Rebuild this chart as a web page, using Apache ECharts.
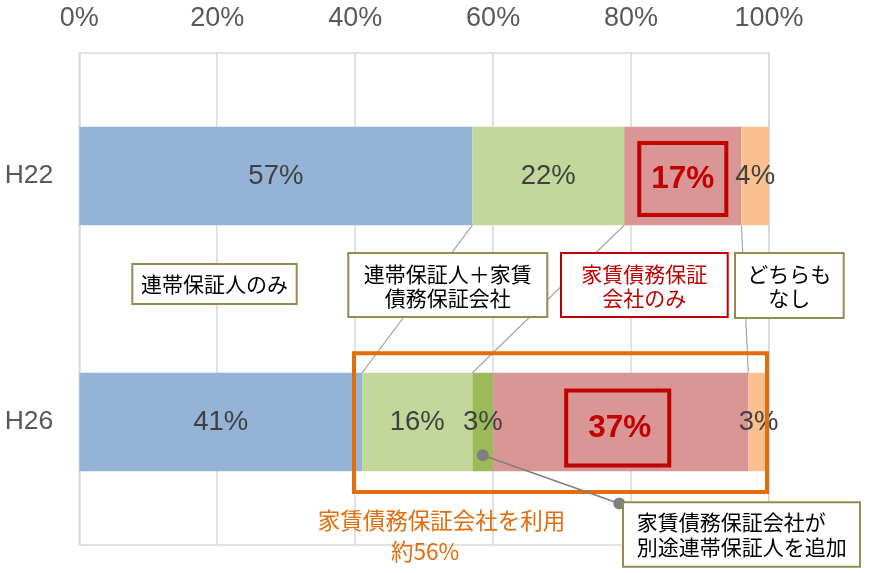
<!DOCTYPE html>
<html><head><meta charset="utf-8">
<script src="https://cdn.jsdelivr.net/npm/echarts@6/dist/echarts.min.js"></script>
<style>html,body{margin:0;padding:0;background:#fff}#c{width:870px;height:573px}</style>
</head><body><div id="c"></div>
<script>
// ---- data ----
const categories = ['H22', 'H26'];
const xTicks = [0, 20, 40, 60, 80, 100];
const onlyGuarantor = [57, 41];          // 連帯保証人のみ
const guarantorPlusCompany = [22, 16];   // 連帯保証人＋家賃債務保証会社
const companyAddedGuarantor = [0, 3];    // 家賃債務保証会社が別途連帯保証人を追加
const companyOnly = [17, 37];            // 家賃債務保証会社のみ
const neither = [4, 3];                  // どちらもなし
const seriesNames = ['連帯保証人のみ', '連帯保証人＋家賃債務保証会社', '家賃債務保証会社が別途連帯保証人を追加', '家賃債務保証会社のみ', 'どちらもなし'];

const LAT = '"Liberation Sans", Arial, "Noto Sans CJK JP", sans-serif';
const JP = '"Noto Sans CJK JP", "Noto Sans", sans-serif';

const chart = echarts.init(document.getElementById('c'), null, {renderer: 'canvas'});

const baseLabel = {
  show: true, position: 'inside', fontSize: 27.5, color: '#404040', fontFamily: LAT,
  formatter: p => (p.value > 0 ? p.value + '%' : '')
};
const boxLabels = [
  {padding: [20, 12, 20, 12], offset: [0, 3]},
  {padding: [21, 18, 22, 22], offset: [-3, 6]}
];
function mk(name, data, color, extra) {
  return {
    name, type: 'bar', stack: 'all', barWidth: '40%',
    itemStyle: {color}, label: baseLabel,
    data: data.map((v, i) => extra ? extra(v, i) : v)
  };
}

chart.setOption({
  animation: false,
  grid: {left: 79.3, right: 101, top: 53, bottom: 28, show: true, borderColor: '#D9D9D9', borderWidth: 1.5},
  xAxis: {
    type: 'value', position: 'top', min: xTicks[0], max: xTicks[xTicks.length - 1], interval: xTicks[1] - xTicks[0],
    axisLine: {show: false}, axisTick: {show: false},
    axisLabel: {formatter: '{value}%', fontSize: 27, color: '#595959', fontFamily: LAT, margin: 21},
    splitLine: {lineStyle: {color: '#D9D9D9', width: 1.5}}
  },
  yAxis: {
    type: 'category', data: categories, inverse: true,
    axisLine: {show: false}, axisTick: {show: false},
    axisLabel: {fontSize: 26.5, color: '#595959', fontFamily: LAT, margin: 26}
  },
  series: [
    mk(seriesNames[0], onlyGuarantor, '#95B3D7'),
    mk(seriesNames[1], guarantorPlusCompany, '#C4D79B'),
    mk(seriesNames[2], companyAddedGuarantor, '#9BBB59'),
    mk(seriesNames[3], companyOnly, '#DA9694', (v, i) => ({
      value: v,
      label: Object.assign({
        fontSize: 31.5, fontWeight: 'bold', color: '#C00000', lineHeight: 32,
        borderColor: '#C00000', borderWidth: 4
      }, boxLabels[i])
    })),
    mk(seriesNames[4], neither, '#FAC090')
  ]
});

// ---- annotations positioned from the axes ----
const xp = v => chart.convertToPixel({xAxisIndex: 0}, v);
const yp = i => chart.convertToPixel({yAxisIndex: 0}, i);
const band = yp(1) - yp(0);
const half = band * 0.2;
const h22Bottom = yp(0) + half;
const h26Top = yp(1) - half;
const h26Bottom = yp(1) + half;

function cum(arrs, i) { return arrs.reduce((s, a) => s + a[i], 0); }
const leader = [
  [cum([onlyGuarantor], 0), cum([onlyGuarantor], 1)],
  [cum([onlyGuarantor, guarantorPlusCompany], 0), cum([onlyGuarantor, guarantorPlusCompany], 1)],
  [cum([onlyGuarantor, guarantorPlusCompany, companyAddedGuarantor, companyOnly], 0),
   cum([onlyGuarantor, guarantorPlusCompany, companyAddedGuarantor, companyOnly], 1)]
];

const g = [];
leader.forEach(([a, b]) => {
  g.push({type: 'line', z: 10, shape: {x1: xp(a), y1: h22Bottom, x2: xp(b), y2: h26Top},
    style: {stroke: '#A6A6A6', lineWidth: 1.2}});
});

function box(x, y, w, h, stroke, text, color, tx, ty, align, lh) {
  g.push({type: 'rect', z: 20, shape: {x, y, width: w, height: h},
    style: {fill: '#fff', stroke, lineWidth: 2}});
  g.push({type: 'text', z: 21, x: tx, y: ty,
    style: {text, fill: color, font: '21px ' + JP, align: align || 'center', verticalAlign: 'middle',
      textAlign: align || 'center', textVerticalAlign: 'middle', lineHeight: lh || 24}});
}
const OLIVE = '#948A54';
box(132.3, 264, 164.4, 40, OLIVE, '連帯保証人のみ', '#000', 214.5, 284.5);
box(348.3, 253, 199, 64, OLIVE, '連帯保証人＋家賃\n債務保証会社', '#000', 447.8, 286);
box(561, 253, 166.7, 64, '#C00000', '家賃債務保証\n会社のみ', '#C00000', 644.3, 286);
box(735, 253, 108.7, 65, OLIVE, 'どちらも\nなし', '#000', 789.3, 286);

// orange frame around company-using segments
g.push({type: 'rect', z: 30, shape: {x: 354, y: 353.3, width: 413, height: 138.7},
  style: {fill: 'none', stroke: '#E46C0A', lineWidth: 4}});
g.push({type: 'text', z: 30, x: 441.5, y: 520,
  style: {text: '家賃債務保証会社を利用', fill: '#E46C0A', font: '22.5px ' + JP, align: 'center', verticalAlign: 'middle', textAlign: 'center', textVerticalAlign: 'middle'}});
g.push({type: 'text', z: 30, x: 425, y: 551.5,
  style: {text: '約56%', fill: '#E46C0A', font: '22.5px ' + JP, align: 'center', verticalAlign: 'middle', textAlign: 'center', textVerticalAlign: 'middle'}});

// dot callout
const dgMid = xp(cum([onlyGuarantor, guarantorPlusCompany], 1) + companyAddedGuarantor[1] / 2);
const d1 = [dgMid, h26Bottom - 16];
const d2 = [619.3, 503.5];
g.push({type: 'line', z: 31, shape: {x1: d1[0], y1: d1[1], x2: d2[0], y2: d2[1]}, style: {stroke: '#7F7F7F', lineWidth: 1.5}});
box(623, 502.3, 237, 64.4, OLIVE, '家賃債務保証会社が\n別途連帯保証人を追加', '#000', 636.7, 534.5, 'left', 25.6);
g[g.length - 2].z = 32; g[g.length - 1].z = 33;
g.push({type: 'circle', z: 34, shape: {cx: d1[0], cy: d1[1], r: 6}, style: {fill: '#808080'}});
g.push({type: 'circle', z: 31, shape: {cx: d2[0], cy: d2[1], r: 6}, style: {fill: '#808080'}});

chart.setOption({graphic: g});
</script>
</body></html>
